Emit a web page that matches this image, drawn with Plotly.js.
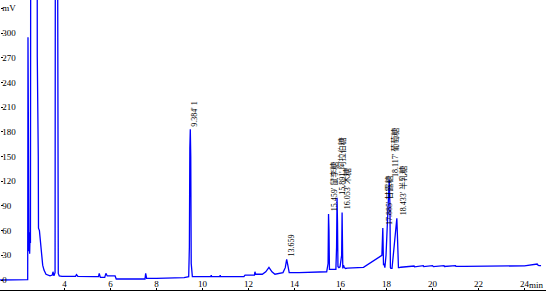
<!DOCTYPE html>
<html>
<head>
<meta charset="utf-8">
<script src="https://cdn.plot.ly/plotly-3.0.1.min.js"></script>
<style>html,body{margin:0;padding:0;background:#fff;}#chart{width:546px;height:293px;}</style>
</head>
<body>
<div id="chart"></div>
<script>
// retention time (min)
var timeMin = [
  1.20, 2.40, 2.413, 2.425, 2.44, 2.455, 2.47, 2.485, 2.50, 2.52, 2.545, 2.80, 2.817, 2.86, 2.87, 2.91, 2.957, 3.009, 3.052, 3.109, 3.196, 3.37, 3.47, 3.50, 3.54, 3.59, 3.617, 3.665, 3.69, 3.73, 3.774, 3.89,
  4.20, 4.48, 4.52, 4.58, 5.30, 5.48, 5.51, 5.56, 5.75, 5.80, 5.86, 6.20, 6.25, 7.00, 7.50, 7.53, 7.57, 8.00, 8.80, 9.20, 9.40,
  9.43, 9.45, 9.47, 9.49, 9.51, 9.56, 10.00, 10.36, 10.38, 10.40, 10.75, 10.77, 10.79, 11.80, 11.85, 12.26, 12.28, 12.31, 12.60, 12.75, 12.89, 13.02, 13.15, 13.50, 13.60, 13.66, 13.71, 13.77, 14.20, 15.00, 15.40,
  15.46, 15.48, 15.50, 15.52, 15.55, 15.80, 15.83, 15.85, 15.87, 15.89, 15.93, 15.98, 16.05, 16.07, 16.08, 16.10, 16.13, 16.17, 16.22, 16.30, 17.00, 17.80,
  17.84, 17.86, 17.87, 17.89, 17.93, 17.98, 18.12, 18.15, 18.17, 18.19, 18.24, 18.30, 18.45, 18.48, 18.50, 18.52, 18.56, 18.62,
  19.20, 19.22, 19.60, 19.62, 20.00, 20.02, 20.04, 20.50, 20.52, 21.00, 21.02, 21.40, 22.00, 23.00, 24.00, 24.55, 24.60, 24.65, 24.72, 24.90
];
// detector signal (mV)
var signalMV = [
  0, 0.5, 295, 40, 62, 35, 58, 32, 50, 45, 900, 900, 271, 150, 63, 60, 42, 30, 18, 12, 7, 5, 6, 10, 5, 9, 900, 900, 245, 8, 5, 4.5,
  4.5, 4.5, 6.5, 4.5, 4, 4, 8, 3.2, 3.2, 8, 4.9, 4.9, 1.2, 1.2, 1.2, 8, 2, 2, 2.5, 3, 4,
  40, 160, 183, 150, 20, 4, 4, 4, 6, 4, 4, 6, 4, 4, 6, 6, 10, 7, 7, 10, 15.4, 10, 7, 9, 15, 25, 18, 9, 8.9, 9.5, 10,
  20, 80, 60, 13, 13, 13, 40, 100, 70, 16, 15, 16, 30, 82, 55, 14, 18, 15, 14, 14.5, 15.4,
  30, 63, 45, 18, 20, 15, 30, 122, 90, 15, 14, 14, 30, 75, 50, 15, 15, 15,
  15.5, 17, 16, 17.5, 16.2, 17.5, 16.2, 16.2, 17.5, 16.4, 17.5, 16.6, 16.6, 16.8, 17, 17.2, 19.4, 17.6, 17.4, 17.5
];
// peak annotations
var peakTimes  = [9.47, 13.66, 15.48, 15.87, 16.08, 17.86, 18.15, 18.48];
var peakHeights= [183, 25, 80, 100, 82, 63, 122, 75];
var peakLabels = ["9.384' 1", "13.659", "15.459' 鼠李糖", "15.891' 阿拉伯糖", "16.053' 木糖", "17.885' 甘露糖", "18.117' 葡萄糖", "18.433' 半乳糖"];
// axes
var yTickVals = [0, 30, 60, 90, 120, 150, 180, 210, 240, 270, 300, 330];
var yTickText = ["0", "30", "60", "90", "120", "150", "180", "210", "240", "270", "300", "mV"];
var xTickVals = [4, 6, 8, 10, 12, 14, 16, 18, 20, 22, 24];
var xRange = [1.196, 24.935];
var yRange = [-12.15, 340.1];

var tickFont = {family: "Liberation Serif, DejaVu Serif, serif", size: 9, color: "#000"};
var labelFont = {family: "Liberation Serif, Noto Sans CJK SC, serif", size: 8, color: "#000"};

var annotations = peakLabels.map(function (txt, i) {
  return {
    x: peakTimes[i], y: peakHeights[i], xref: "x", yref: "y",
    text: txt, textangle: -90, showarrow: false,
    xanchor: "left", yanchor: "bottom", xshift: -2, yshift: 1,
    font: labelFont
  };
});
annotations.push({
  x: 0.9835, y: 0, xref: "paper", yref: "paper", text: "min", showarrow: false,
  xanchor: "center", yanchor: "bottom", yshift: -2, font: tickFont
});

var trace = {
  x: timeMin, y: signalMV, type: "scatter", mode: "lines",
  line: {color: "#0000ff", width: 1.3}, hoverinfo: "skip"
};
// invisible helper so the labelled overlay axes are drawn
var axisHelper = {
  x: [timeMin[0]], y: [signalMV[0]], xaxis: "x2", yaxis: "y2", type: "scatter", mode: "markers",
  marker: {opacity: 0}, hoverinfo: "skip"
};

var layout = {
  width: 546, height: 293,
  margin: {l: 0, r: 0, t: 0, b: 3, pad: 0},
  paper_bgcolor: "#fff", plot_bgcolor: "#fff",
  showlegend: false,
  xaxis: {
    range: xRange, tickvals: xTickVals, showticklabels: false,
    ticks: "inside", ticklen: 2, tickcolor: "#000",
    showline: true, linecolor: "#000", linewidth: 1, showgrid: false, zeroline: false
  },
  xaxis2: {
    range: xRange, overlaying: "x", anchor: "free", position: 0.045, side: "bottom",
    tickvals: xTickVals, ticktext: xTickVals.map(String), ticks: "",
    showline: false, showgrid: false, zeroline: false, tickfont: tickFont
  },
  yaxis: {
    range: yRange, showticklabels: false, ticks: "",
    showline: false, showgrid: false, zeroline: false
  },
  yaxis2: {
    range: yRange, overlaying: "y", anchor: "free", position: 0, side: "left",
    tickvals: yTickVals, ticktext: yTickText,
    ticks: "inside", ticklen: 2, tickcolor: "#000", ticklabelposition: "inside",
    ticklabelstandoff: -2,
    showline: false, showgrid: false, zeroline: false, tickfont: tickFont
  },
  annotations: annotations
};

Plotly.newPlot("chart", [trace, axisHelper], layout, {staticPlot: true, displayModeBar: false});
</script>
</body>
</html>
